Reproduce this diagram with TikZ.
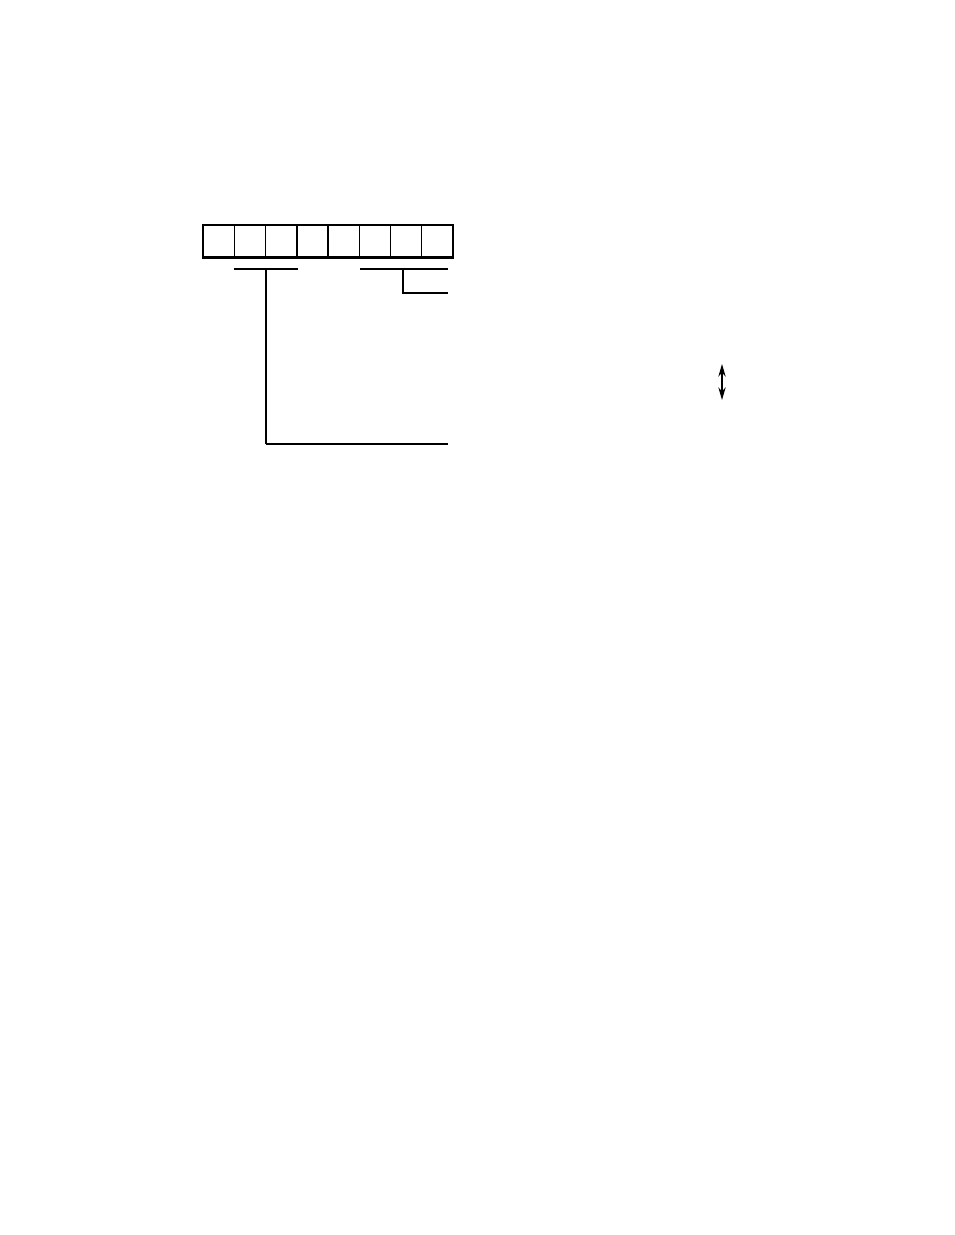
\documentclass[tikz,border=0pt]{standalone}
\usetikzlibrary{arrows.meta}
\tikzset{cell/.style={draw,line width=0.9pt,minimum width=23.44pt,minimum height=24pt,inner sep=0pt}}
\begin{document}
\begin{tikzpicture}[x=0.75pt,y=-0.75pt,line width=0.9pt]
\useasboundingbox (0,0) rectangle (954,1235);
\foreach \i in {1,...,8}
  \node[cell] (c\i) at ({203+31.25*(\i-0.5)},241) {};
\draw[line width=1.5pt](c1.south west)--(c8.south east);
\draw[line width=1.3pt](c3.north east)--(c3.south east);
\coordinate(l1) at (234,269);\coordinate(l2) at (298,269);
\coordinate(l3) at (266,269);\coordinate(l4) at (448,444);
\coordinate(r1) at (360,269);\coordinate(r2) at (448,269);
\coordinate(r3) at (403,269);\coordinate(r4) at (448,293);
\draw(l1)--(l2);
\draw(l3)--(l3|-l4);
\draw[line width=1.6pt](l3|-l4)--(l4);
\draw(r1)--(r2);
\draw(r3)|-(r4);
\coordinate(a1) at (722,364);\coordinate(a2) at (722,400);
\draw[{Stealth[length=9.5pt,width=5.5pt]}-{Stealth[length=9.5pt,width=5.5pt]}](a1)--(a2);
\end{tikzpicture}
\end{document}
